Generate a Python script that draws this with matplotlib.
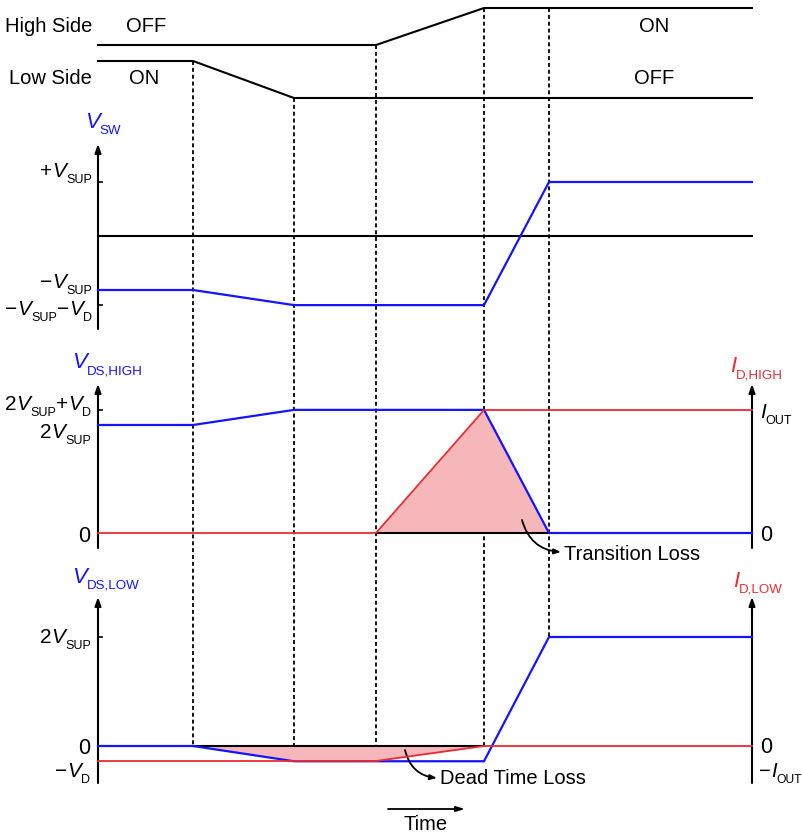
import numpy as np
import matplotlib
matplotlib.use('Agg')
import matplotlib.pyplot as plt

plt.rcParams['font.family'] = ['Liberation Sans', 'DejaVu Sans']

# switching instants (time units) and waveform levels (normalised: VSUP = 1, VD = 0.28, IOUT = 1)
t = [0.0, 0.95, 1.96, 2.78, 3.86, 4.51, 6.54]
high_side = [0, 0, 0, 0, 1, 1, 1]
low_side = [1, 1, 0, 0, 0, 0, 0]
v_sw = [-1, -1, -1.28, -1.28, -1.28, 1, 1]
v_ds_high = [2, 2, 2.28, 2.28, 2.28, 0, 0]
i_d_high = [0, 0, 0, 0, 1, 1, 1]
v_ds_low = [0, 0, -0.28, -0.28, -0.28, 2, 2]
i_d_low = [-1, -1, -1, -1, 0, 0, 0]
marker_gate = ['low', 'low', 'high', 'high', 'high']

BLUE = '#1414ff'
RED = '#ee2a30'
FILL = '#f5b7ba'
FS = 14.5
FM = 15      # main letter of symbol labels
SUB = 0.6    # subscript scale

# panel layout: (zero position, units per level)
def lay(vals, zero, scale):
    return zero - scale * np.asarray(vals, dtype=float)

y_high = lay(high_side, 45, 37)
y_low = lay(low_side, 98, 37)
y_sw = lay(v_sw, 236, 54)
y_vh = lay(v_ds_high, 533, 54)
y_ih = lay(i_d_high, 533, 123)
y_vl = lay(v_ds_low, 746, 54.5)
y_il = lay(i_d_low, 746, 15)

fig = plt.figure(figsize=(8.02, 8.36), dpi=100)
ax = fig.add_axes([0, 0, 1, 1])
ax.set_xlim(-0.98, 7.04)
ax.set_ylim(836, 0)
ax.axis('off')
renderer = fig.canvas.get_renderer()

t0, tend = t[0], t[-1]


def sym(x, y, parts, ha='left', color='black', size=FM):
    """symbol label built from pieces: 'n' upright, 'i' italic, 's' subscript; y = baseline"""
    arts = []
    for s, kind in parts:
        fs = size * SUB if kind == 's' else size
        a = ax.text(0, 0, s, fontsize=fs, color=color, va='baseline', ha='left',
                    style='italic' if kind == 'i' else 'normal')
        arts.append((a, kind))
    widths = [a.get_window_extent(renderer).width / 100 for a, _ in arts]
    cur = x - sum(widths) if ha == 'right' else x
    for (a, kind), w in zip(arts, widths):
        a.set_position((cur, y + (6 if kind == 's' else 0)))
        cur += w


# gate signals
ax.plot(t, y_high, color='black', lw=1.5)
ax.plot(t, y_low, color='black', lw=1.5)
ax.text(-0.06, 27, 'High Side', ha='right', va='center', fontsize=FS)
ax.text(0.48, 27, 'OFF', ha='center', va='center', fontsize=FS)
ax.text(5.56, 27, 'ON', ha='center', va='center', fontsize=FS)
ax.text(-0.06, 78, 'Low Side', ha='right', va='center', fontsize=FS)
ax.text(0.46, 78, 'ON', ha='center', va='center', fontsize=FS)
ax.text(5.56, 78, 'OFF', ha='center', va='center', fontsize=FS)

# dashed markers
for k in range(1, 6):
    top = y_low[k] if marker_gate[k - 1] == 'low' else y_high[k]
    bot = min(y_vl[k], y_il[k])
    ax.plot([t[k], t[k]], [top, bot], color='black', lw=1.3, ls=(0, (2.2, 1.6)), zorder=1)


def axis_arrow(x, y0, y1):
    ax.annotate('', xy=(x, y1), xytext=(x, y0),
                arrowprops=dict(arrowstyle='-|>,head_length=0.5,head_width=0.18',
                                color='black', lw=1.5, shrinkA=0, shrinkB=0))


def tick(x, y, d=0.04):
    ax.plot([x, x + d], [y, y], color='black', lw=1.2)


# V_SW panel
axis_arrow(t0, 329, 144)
ax.plot([t0, tend], [236, 236], color='black', lw=1.5)
ax.plot(t, y_sw, color=BLUE, lw=1.6, zorder=3)
tick(t0, 182)
tick(t0, 305)
sym(-0.13, 128, [('V', 'i'), ('SW', 's')], color=BLUE, size=FM + 1)
sym(-0.06, 177, [('+', 'n'), ('V', 'i'), ('SUP', 's')], ha='right')
sym(-0.06, 288, [('\u2212', 'n'), ('V', 'i'), ('SUP', 's')], ha='right')
sym(-0.06, 315, [('\u2212', 'n'), ('V', 'i'), ('SUP', 's'), ('\u2212', 'n'), ('V', 'i'), ('D', 's')],
    ha='right')

# V_DS,HIGH / I_D,HIGH panel
axis_arrow(t0, 548, 384)
axis_arrow(tend, 548, 384)
ax.fill_between(t[3:6], 533, np.maximum(y_ih, y_vh)[3:6], color=FILL, lw=0, zorder=1)
ax.plot([t[3], t[5]], [533, 533], color='black', lw=1.5, zorder=2)
ax.plot(t, y_vh, color=BLUE, lw=1.6, zorder=3)
ax.plot(t, y_ih, color=RED, lw=1.3, zorder=4)
tick(t0, 410)
sym(-0.26, 368, [('V', 'i'), ('DS,HIGH', 's')], color=BLUE, size=FM + 1)
sym(6.32, 372, [('I', 'i'), ('D,HIGH', 's')], color=RED, size=FM + 1)
sym(-0.07, 410, [('2', 'n'), ('V', 'i'), ('SUP', 's'), ('+', 'n'), ('V', 'i'), ('D', 's')], ha='right')
sym(-0.07, 438, [('2', 'n'), ('V', 'i'), ('SUP', 's')], ha='right')
sym(-0.08, 542, [('0', 'n')], ha='right', size=FM + 0.5)
sym(6.62, 418, [('I', 'i'), ('OUT', 's')])
sym(6.62, 541, [('0', 'n')], size=FM + 0.5)
ax.text(4.66, 555, 'Transition Loss', fontsize=FS, va='center', ha='left')
ax.annotate('', xy=(4.63, 552), xytext=(4.24, 520),
            arrowprops=dict(arrowstyle='-|>,head_length=0.4,head_width=0.15', color='black',
                            lw=1.3, connectionstyle='arc3,rad=0.35', shrinkA=0, shrinkB=0))

# V_DS,LOW / I_D,LOW panel
axis_arrow(t0, 783, 597)
axis_arrow(tend, 783, 597)
ax.fill_between(t[1:5], 746, np.minimum(y_vl, y_il)[1:5], color=FILL, lw=0, zorder=1)
ax.plot([t[1], t[4]], [746, 746], color='black', lw=1.5, zorder=2)
ax.plot(t, y_vl, color=BLUE, lw=1.6, zorder=3)
ax.plot(t, y_il, color=RED, lw=1.3, zorder=4)
tick(t0, 637)
sym(-0.26, 583, [('V', 'i'), ('DS,LOW', 's')], color=BLUE, size=FM + 1)
sym(6.35, 587, [('I', 'i'), ('D,LOW', 's')], color=RED, size=FM + 1)
sym(-0.07, 643, [('2', 'n'), ('V', 'i'), ('SUP', 's')], ha='right')
sym(-0.08, 754, [('0', 'n')], ha='right', size=FM + 0.5)
sym(-0.08, 777, [('\u2212', 'n'), ('V', 'i'), ('D', 's')], ha='right')
sym(6.62, 753, [('0', 'n')], size=FM + 0.5)
sym(6.61, 777, [('\u2212', 'n'), ('I', 'i'), ('OUT', 's')], size=FM - 0.5)
ax.text(3.42, 779, 'Dead Time Loss', fontsize=FS, va='center', ha='left')
ax.annotate('', xy=(3.39, 778), xytext=(3.07, 750),
            arrowprops=dict(arrowstyle='-|>,head_length=0.4,head_width=0.15', color='black',
                            lw=1.3, connectionstyle='arc3,rad=0.35', shrinkA=0, shrinkB=0))

# time arrow
ax.annotate('', xy=(3.67, 809), xytext=(2.90, 809),
            arrowprops=dict(arrowstyle='-|>,head_length=0.5,head_width=0.15', color='black',
                            lw=1.3, shrinkA=0, shrinkB=0))
ax.text(3.28, 825, 'Time', fontsize=FS, ha='center', va='center')

fig.savefig('out.png', dpi=100)
